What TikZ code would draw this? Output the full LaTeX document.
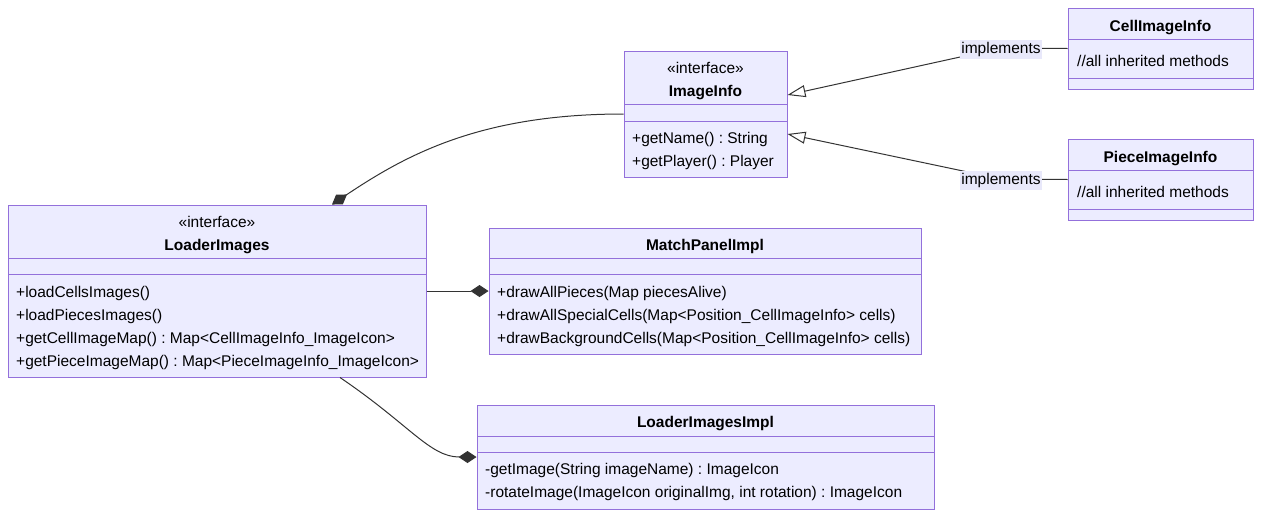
\documentclass[tikz,border=0pt]{standalone}
\usepackage{fontspec}
\setmainfont{Liberation Sans}
\usetikzlibrary{arrows.meta, positioning}
\frenchspacing

\definecolor{boxfill}{HTML}{ECECFF}
\definecolor{boxline}{HTML}{9370DB}
\definecolor{edgeline}{HTML}{333333}
\definecolor{labelfill}{RGB}{232,232,250}

\tikzset{
  classbox/.style={draw=boxline, fill=boxfill, line width=1pt, inner sep=0pt},
  divider/.style={draw=boxline, line width=1pt},
  member/.style={anchor=mid west, inner sep=0pt, yshift=-3pt, font=\fontsize{15.5}{19}\selectfont},
  stereo/.style={anchor=mid, inner sep=0pt, yshift=-3pt, font=\fontsize{15.5}{19}\selectfont},
  classname/.style={anchor=mid, inner sep=0pt, yshift=-3pt, font=\fontsize{15.5}{19}\selectfont\bfseries},
  edge/.style={draw=edgeline, line width=1pt},
  compose/.style={edge, -{Diamond[length=18pt, width=12pt, fill=edgeline]}},
  realize/.style={edge, -{Triangle[open, length=18pt, width=12pt, fill=white]}},
  edgelabel/.style={fill=labelfill, inner sep=1.5pt, yshift=-1.5pt, text height=12pt, text depth=4pt, font=\fontsize{15.5}{19}\selectfont},
}

\begin{document}
\begin{tikzpicture}[x=1pt, y=-1pt]
    \useasboundingbox (0,0) rectangle (1262,517);

    % ImageInfo
    \node[classbox, minimum width=163pt, minimum height=126pt] (imageinfo) at (705.5,114) {};
    \draw[divider] (624,104) -- (787,104);
    \draw[divider] (624,121) -- (787,121);
    \node[stereo] (imageinfostereo) at (705.5,68) {«interface»};
    \node[classname] (imageinfoname) at (705.5,91) {ImageInfo};
    \node[member] (imageinfoa) at (632,138) {+getName() : String};
    \node[member] (imageinfob) at (632,161) {+getPlayer() : Player};

    % CellImageInfo
    \node[classbox, minimum width=185pt, minimum height=81pt] (cellimageinfo) at (1160.5,48.5) {};
    \draw[divider] (1068,39) -- (1253,39);
    \draw[divider] (1068,78) -- (1253,78);
    \node[classname] (cellimageinfoname) at (1160.5,26) {CellImageInfo};
    \node[member] (cellimageinfoa) at (1077,61) {//all inherited methods};

    % PieceImageInfo
    \node[classbox, minimum width=185pt, minimum height=81pt] (pieceimageinfo) at (1160.5,179.5) {};
    \draw[divider] (1068,170) -- (1253,170);
    \draw[divider] (1068,209) -- (1253,209);
    \node[classname] (pieceimageinfoname) at (1160.5,157) {PieceImageInfo};
    \node[member] (pieceimageinfoa) at (1077,192) {//all inherited methods};

    % LoaderImages
    \node[classbox, minimum width=418pt, minimum height=172pt] (loaderimages) at (217,291) {};
    \draw[divider] (8,258) -- (426,258);
    \draw[divider] (8,274) -- (426,274);
    \node[stereo] (loaderimagesstereo) at (217,222) {«interface»};
    \node[classname] (loaderimagesname) at (217,245) {LoaderImages};
    \node[member] (loaderimagesa) at (16,292) {+loadCellsImages()};
    \node[member] (loaderimagesb) at (16,315) {+loadPiecesImages()};
    \node[member] (loaderimagesc) at (16,338) {+getCellImageMap() : Map<CellImageInfo\_ImageIcon>};
    \node[member] (loaderimagesd) at (16,361) {+getPieceImageMap() : Map<PieceImageInfo\_ImageIcon>};

    % MatchPanelImpl
    \node[classbox, minimum width=432pt, minimum height=126pt] (matchpanel) at (705,291) {};
    \draw[divider] (489,258) -- (921,258);
    \draw[divider] (489,274) -- (921,274);
    \node[classname] (matchpanelname) at (705,245) {MatchPanelImpl};
    \node[member] (matchpanela) at (497,292) {+drawAllPieces(Map piecesAlive)};
    \node[member] (matchpanelb) at (497,315) {+drawAllSpecialCells(Map<Position\_CellImageInfo> cells)};
    \node[member] (matchpanelc) at (497,338) {+drawBackgroundCells(Map<Position\_CellImageInfo> cells)};

    % LoaderImagesImpl
    \node[classbox, minimum width=457pt, minimum height=104pt] (loaderimagesimpl) at (705.5,457) {};
    \draw[divider] (477,436) -- (934,436);
    \draw[divider] (477,452) -- (934,452);
    \node[classname] (loaderimagesimplname) at (705.5,422) {LoaderImagesImpl};
    \node[member] (loaderimagesimpla) at (485,469) {-getImage(String imageName) : ImageIcon};
    \node[member] (loaderimagesimplb) at (485,492) {-rotateImage(ImageIcon originalImg, int rotation) : ImageIcon};

    % composition
    \draw[compose] (imageinfo.west) .. controls (480,114) and (406,155) .. ([xshift=115pt]loaderimages.north);
    \draw[compose] (loaderimages.east) -- (matchpanel.west);
    \draw[compose] ([xshift=123pt]loaderimages.south) .. controls (410,425) and (430,457) .. (loaderimagesimpl.west);

    % realization
    \coordinate (implcell) at (1001,48);
    \coordinate (implpiece) at (1001,179);
    \draw[edge] (cellimageinfo.west) -- (implcell);
    \draw[realize] (implcell) -- ([yshift=19pt]imageinfo.east);
    \draw[edge] (pieceimageinfo.west) -- (implpiece);
    \draw[realize] (implpiece) -- ([yshift=-20pt]imageinfo.east);
    \node[edgelabel] (implcelllabel) at (implcell) {implements};
    \node[edgelabel] (implpiecelabel) at (implpiece) {implements};

\end{tikzpicture}
\end{document}
